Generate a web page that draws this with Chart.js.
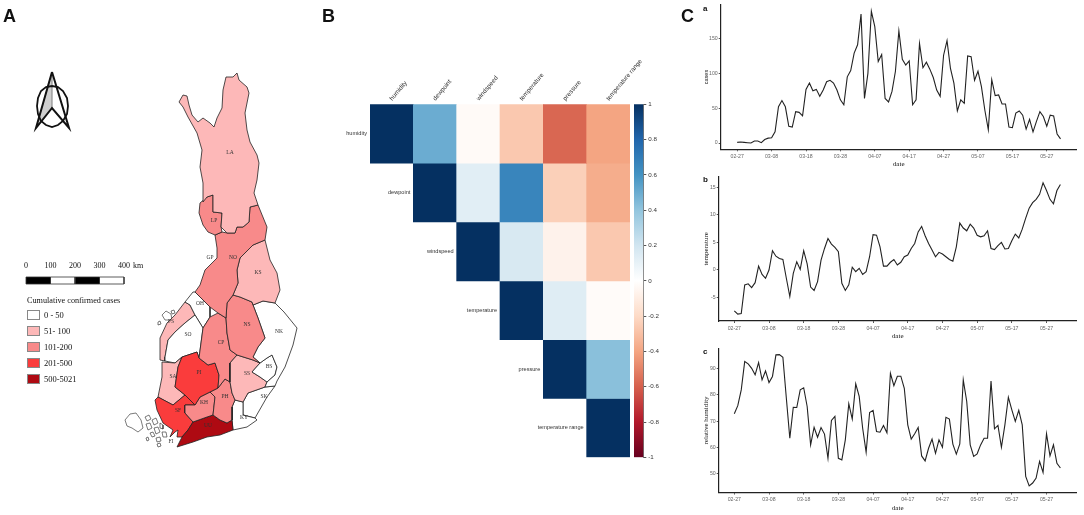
<!DOCTYPE html>
<html>
<head>
<meta charset="utf-8">
<script src="https://cdn.jsdelivr.net/npm/chart.js@4"></script>
<style>
body { margin:0; background:#fff; width:1084px; height:515px; overflow:hidden; position:relative; }
canvas { position:absolute; filter:blur(0.4px); }
.txt { position:absolute; white-space:nowrap; color:#111; }
.big { font:bold 18px "Liberation Sans"; }
.small { font:bold 8px "Liberation Sans"; }
.leg { font:8.5px "Liberation Serif"; }
.sw { position:absolute; width:13px; height:10px; border:1px solid #888; box-sizing:border-box; }
</style>
</head>
<body>
<canvas id="mapChart" width="320" height="515" style="left:0;top:0"></canvas>
<canvas id="heatChart" width="340" height="440" style="left:320px;top:40px"></canvas>
<canvas id="barScale" width="50" height="375" style="left:625px;top:95px"></canvas>
<canvas id="chartA" width="381" height="168" style="left:703px;top:0"></canvas>
<canvas id="chartB" width="382" height="170" style="left:702px;top:170px"></canvas>
<canvas id="chartC" width="382" height="172" style="left:702px;top:340px"></canvas>

<div class="txt big" style="left:3px;top:6px">A</div>
<div class="txt big" style="left:322px;top:6px">B</div>
<div class="txt big" style="left:681px;top:6px">C</div>
<div class="txt small" style="left:703px;top:4px">a</div>
<div class="txt small" style="left:703px;top:175px">b</div>
<div class="txt small" style="left:703px;top:347px">c</div>
<div id="legend"></div>

<script>
// ---------- panel C : daily series, 02-27 to 05-31
var dateTicks = ["02-27","03-08","03-18","03-28","04-07","04-17","04-27","05-07","05-17","05-27"];
var tickDays = [0,10,20,30,40,50,60,70,80,90];

var cases = [1,1.5,1,0.5,0,3,3,0.5,5,7,7.5,16,52,61,52,24,23,45,44,39,77,86,75,77,67,76,88,90,86,76,62,55,95,104,129,141,185,64,100,189,167,117,127,64,59,74,103,161,120,112,118,55,62,143,108,116,106,94,76,67,126,147,107,86,46,62,57,125,124,90,103,81,47,19,91,68,69,56,56,23,22,43,46,40,20,34,16,31,45,38,24,40,39,13,6];
var temperature = [-7.4,-8,-7.9,-2.7,-2.5,-3.2,-2.3,0.7,-0.8,-1.5,0,3.5,2.5,2.1,1.9,-1.5,-4.8,-0.6,1.5,0.1,3.5,1.1,-3.1,-3.7,-2.1,1.8,3.9,5.7,4.7,4.1,3.3,-2.4,-3.7,-2.7,0.5,-0.3,0.3,-0.8,-0.3,2.4,6.4,6.3,4.2,0.7,0.7,1.4,1.9,0.9,1.4,2.4,2.7,3.9,4.8,6.9,7.9,6.2,4.8,3.6,2.4,3.2,2.9,2.4,1.9,1.6,4.2,8.5,7.6,7.1,8.3,7.6,6.3,6,6.2,7.1,3.9,3.7,4.4,5,3.8,3.9,5.3,6.5,5.8,7.4,9.4,11.2,12.2,12.8,13.7,15.8,14.4,12.8,12,14.4,15.5];
var humidity = [72.8,75.9,81.9,92.7,91.8,90.1,87.6,92.3,85.7,89.1,84.7,87,95.2,95.3,94.3,78.7,63.5,75.3,75.2,81.9,82.7,75.6,61,67.7,63.9,67.6,65.1,55.9,70.3,71.8,55.9,55.3,62.9,76.6,70.8,84.2,79.4,67.3,58.2,73.3,74.1,66.1,65.8,68.4,65.6,88.2,83.5,87.1,87.1,82.5,68.6,63.2,65.2,67.6,56.8,54.9,59.7,63.2,57.8,62.9,60.1,71.5,70.8,61.3,57.5,61.4,85.7,77.5,61,56.6,57.6,61,63.5,63.5,85.3,67.1,68.4,60.1,68.6,79.1,74.3,69.9,74.1,68.6,49,45.4,46.5,48.4,54.7,50.5,65.2,56.8,61,54,52.2];

var casesTicks = [0,50,100,150];
var tempTicks = [-5,0,5,10,15];
var humidTicks = [50,60,70,80,90];

// ---------- panel B : correlation matrix (upper triangle)
var corrNames = ["humidity","dewpoint","windspeed","temperature","pressure","temperature range"];
var corrHumidity = [1,0.5,-0.03,-0.27,-0.58,-0.4];
var corrDewpoint = [null,1,0.13,0.66,-0.24,-0.37];
var corrWindspeed = [null,null,1,0.17,-0.07,-0.27];
var corrTemperature = [null,null,null,1,0.14,-0.02];
var corrPressure = [null,null,null,null,1,0.42];
var corrRange = [null,null,null,null,null,1];
var corrRows = [corrHumidity,corrDewpoint,corrWindspeed,corrTemperature,corrPressure,corrRange];
var rdbuStops = ["#67001f","#b2182b","#d6604d","#f4a582","#fddbc7","#ffffff","#d1e5f0","#92c5de","#4393c3","#2166ac","#053061"];

// ---------- panel A : region outlines, in map units
var lapland = [[179,102],[183,95],[187,96],[189,105],[192,115],[198,122],[203,118],[210,123],[214,127],[217,118],[222,108],[223,90],[226,77],[233,77],[237,73],[239,80],[247,87],[249,93],[245,113],[247,130],[250,142],[257,155],[259,163],[257,180],[254,193],[258,205],[250,207],[249,222],[243,227],[237,227],[235,233],[227,233],[221,227],[222,213],[213,212],[213,195],[207,197],[203,202],[203,183],[200,167],[202,150],[197,133],[188,117],[183,107]];
var westPocket = [[213,195],[207,197],[200,203],[199,213],[203,225],[208,232],[215,235],[222,232],[221,227],[222,213],[213,212]];
var northOstro = [[215,235],[222,232],[227,233],[235,233],[237,227],[243,227],[249,222],[250,207],[258,205],[267,227],[265,240],[253,245],[240,258],[237,270],[238,283],[233,295],[227,303],[226,318],[218,313],[210,307],[203,300],[195,292],[200,285],[205,270],[217,258],[217,248]];
var kainuu = [[265,240],[270,260],[277,273],[280,290],[275,303],[263,301],[253,305],[252,302],[240,297],[233,295],[238,283],[237,270],[240,258],[253,245]];
var northSavo = [[227,303],[233,295],[240,297],[252,302],[253,305],[258,318],[265,338],[258,347],[253,357],[260,363],[253,360],[237,355],[230,350],[227,333],[226,318]];
var northKarelia = [[253,305],[263,301],[275,303],[284,312],[297,328],[293,345],[285,367],[277,381],[275,386],[265,387],[267,382],[275,375],[277,367],[272,355],[267,358],[260,363],[253,357],[258,347],[265,338],[258,318]];
var blueSavo = [[260,363],[267,358],[272,355],[277,367],[275,375],[267,382],[260,377],[252,372]];
var southSavo = [[237,355],[230,363],[230,382],[232,393],[235,400],[243,402],[248,393],[265,387],[267,382],[260,377],[252,372],[260,363],[253,360]];
var central = [[203,328],[210,317],[218,313],[226,318],[227,333],[230,350],[237,355],[230,363],[230,382],[225,379],[218,388],[219,375],[215,363],[208,365],[199,358]];
var pirkanmaa = [[178,367],[182,357],[197,352],[199,358],[208,365],[215,363],[219,375],[218,388],[210,392],[200,397],[195,405],[185,395],[175,387]];
var paijanne = [[218,388],[225,379],[230,382],[232,393],[235,400],[232,407],[232,420],[227,423],[220,420],[213,415],[215,397],[210,392]];
var kantaHame = [[195,405],[200,397],[210,392],[215,397],[213,415],[207,417],[193,422],[185,413],[185,405]];
var uusimaa = [[213,415],[220,420],[227,423],[232,420],[233,430],[220,435],[207,437],[193,442],[177,447],[182,437],[188,430],[193,422],[207,417]];
var kymi = [[232,420],[233,430],[247,427],[257,420],[255,418],[243,415],[243,402],[235,400],[232,407]];
var southKarelia = [[243,402],[248,393],[265,387],[275,386],[267,397],[255,418],[243,415]];
var southwest = [[155,400],[158,397],[173,405],[185,395],[195,405],[185,405],[185,413],[193,422],[188,430],[182,437],[177,437],[178,430],[175,432],[170,437],[173,430],[163,423],[157,410]];
var satakunta = [[162,362],[175,363],[182,357],[178,367],[175,387],[185,395],[173,405],[158,397],[162,377]];
var southOstro = [[175,332],[185,323],[195,315],[203,328],[199,358],[197,352],[182,357],[175,363],[165,361],[165,357],[168,340]];
var centralOstro = [[185,302],[193,292],[195,292],[203,300],[210,307],[210,317],[203,328],[195,315],[190,305]];
var ostrobothnia = [[185,302],[190,305],[195,315],[185,323],[175,332],[168,340],[165,357],[165,361],[160,360],[160,338],[167,323],[175,315]];
var islands = [
  [[125,420],[130,414],[136,413],[141,420],[143,428],[138,432],[132,428],[127,426]],
  [[145,417],[149,415],[151,419],[147,421]],[[152,420],[156,418],[158,423],[154,425]],
  [[146,424],[150,423],[152,428],[148,430]],[[154,428],[158,427],[160,432],[156,434]],
  [[160,423],[163,425],[163,429],[160,428]],[[162,432],[166,432],[167,437],[163,437]],
  [[150,433],[153,432],[155,436],[152,437]],[[156,438],[160,437],[161,441],[157,442]],
  [[146,438],[148,437],[149,440],[147,441]],[[157,444],[160,443],[161,446],[158,447]],
  [[162,315],[166,311],[171,314],[172,320],[165,320]],[[158,322],[160,321],[161,324],[158,325]],
  [[171,311],[174,310],[175,313],[172,314]]
];
var compassRing = [[52,86],[58,87],[63,91],[67,98],[68,106],[67,114],[63,121],[58,125],[52,127],[46,125],[41,121],[38,114],[37,106],[38,98],[41,91],[46,87]];
var compassArrow = [[52,72],[69,128],[52,108],[36,128]];
var compassShade = [[52,72],[52,108],[36,128]];

var regionLabels = [["LA",230,153],["LP",214,221],["GP",210,258],["NO",233,258],["KS",258,273],["OH",200,304],["SO",188,335],["NS",247,325],["NK",279,332],["CP",221,343],["PS",171,322],["SA",173,377],["PI",199,373],["SS",247,374],["BS",269,367],["PH",225,397],["KH",204,403],["SK",264,397],["KY",244,418],["SF",178,411],["UU",208,426],["FI",171,442]];

var scaleKm = [0,100,200,300,400];
var legendTitle = "Cumulative confirmed cases";
var legendLabels = ["0 - 50","51- 100","101-200","201-500","500-5021"];
var legendColors = ["#ffffff","#fdb8b8","#f88a8a","#fa3c3c","#ae0a12"];

var sans = '"Liberation Sans"', serif = '"Liberation Serif"';

function ringData(r) {
    var pts = r.map(function(p){ return {x:p[0], y:p[1]}; });
    pts.push({x:r[0][0], y:r[0][1]});
    return pts;
}
function region(r, col) {
    return { data:ringData(r), showLine:true, fill:'shape', backgroundColor:col, borderColor:'#222', borderWidth:0.8, pointRadius:0, tension:0 };
}

// ---------- map
var mapSets = [
    region(lapland,legendColors[1]), region(westPocket,legendColors[2]), region(northOstro,legendColors[2]),
    region(kainuu,legendColors[1]), region(northSavo,legendColors[2]), region(northKarelia,legendColors[0]),
    region(blueSavo,legendColors[0]), region(southSavo,legendColors[1]), region(central,legendColors[2]),
    region(pirkanmaa,legendColors[3]), region(paijanne,legendColors[2]), region(kantaHame,legendColors[2]),
    region(uusimaa,legendColors[4]), region(kymi,legendColors[0]), region(southKarelia,legendColors[0]),
    region(southwest,legendColors[3]), region(satakunta,legendColors[1]), region(southOstro,legendColors[0]),
    region(centralOstro,legendColors[0]), region(ostrobothnia,legendColors[1])
];
islands.forEach(function(r){
    var isl = region(r,'#ffffff');
    isl.borderWidth = 0.6;
    mapSets.push(isl);
});

// north arrow
var arrow = region(compassArrow,'rgba(255,255,255,0)'); arrow.borderWidth = 2; arrow.borderColor = '#111';
var shade = region(compassShade,'#cfcfcf'); shade.borderWidth = 0.5; shade.borderColor = '#888';
var ring = region(compassRing,'rgba(255,255,255,0)'); ring.borderWidth = 1.8; ring.borderColor = '#111';
mapSets.push(arrow, ring, shade);

// scale bar, 400 km = 98 map units
function kmX(km) { return 26 + km * 0.245; }
for (var k = 0; k < scaleKm.length - 1; k++) {
    var sb = region([[kmX(scaleKm[k]),277],[kmX(scaleKm[k+1]),277],[kmX(scaleKm[k+1]),284],[kmX(scaleKm[k]),284]], k % 2 ? '#fff' : '#000');
    sb.borderColor = '#333';
    mapSets.push(sb);
}

var mapText = {
    id:'mapText',
    afterDatasetsDraw: function(chart) {
        var c = chart.ctx, x = chart.scales.x, y = chart.scales.y;
        c.save();
        c.fillStyle = '#333';
        c.textAlign = 'center';
        c.textBaseline = 'middle';
        c.font = '5.5px ' + serif;
        regionLabels.forEach(function(l){ c.fillText(l[0], x.getPixelForValue(l[1]), y.getPixelForValue(l[2])); });
        c.fillStyle = '#111';
        c.font = '8px ' + serif;
        scaleKm.forEach(function(km){ c.fillText(String(km), x.getPixelForValue(kmX(km)), y.getPixelForValue(266)); });
        c.fillText('km', x.getPixelForValue(138), y.getPixelForValue(266));
        c.restore();
    }
};

new Chart(document.getElementById('mapChart'), {
    type:'scatter',
    data:{ datasets:mapSets },
    options:{
        responsive:false, animation:false, layout:{padding:0},
        plugins:{ legend:{display:false}, tooltip:{enabled:false} },
        scales:{
            x:{ type:'linear', display:false, min:0, max:320 },
            y:{ type:'linear', display:false, min:0, max:515, reverse:true }
        }
    },
    plugins:[mapText]
});

// legend under the scale bar
var legendHtml = '<div class="txt" style="left:27px;top:296px;font:8.2px ' + serif.replace(/"/g,"'") + '">' + legendTitle + '</div>';
legendLabels.forEach(function(t,i){
    var top = 310 + i * 16;
    legendHtml += '<div class="sw" style="left:27px;top:' + top + 'px;background:' + legendColors[i] + '"></div>';
    legendHtml += '<div class="txt leg" style="left:44px;top:' + (top - 0.5) + 'px">' + t + '</div>';
});
document.getElementById('legend').innerHTML = legendHtml;

// ---------- correlation plot
function hexRgb(h) { return [parseInt(h.substr(1,2),16), parseInt(h.substr(3,2),16), parseInt(h.substr(5,2),16)]; }
function corrColor(v) {
    var t = (v + 1) * 5, i = Math.min(Math.floor(t), 9), f = t - i;
    var a = hexRgb(rdbuStops[i]), b = hexRgb(rdbuStops[i+1]);
    return 'rgb(' + [0,1,2].map(function(n){ return Math.round(a[n] + (b[n]-a[n]) * f); }).join(',') + ')';
}
var heatSets = corrRows.map(function(row, r){
    return {
        data: row.map(function(v){ return v === null ? null : [r, r+1]; }),
        backgroundColor: row.map(function(v){ return v === null ? 'transparent' : corrColor(v); }),
        grouped:false, barPercentage:1, categoryPercentage:1, borderWidth:0
    };
});
var rowLabels = {
    id:'rowLabels',
    afterDatasetsDraw: function(chart) {
        var c = chart.ctx, x = chart.scales.x, y = chart.scales.y;
        c.save();
        c.fillStyle = '#333';
        c.font = '5.6px ' + sans;
        c.textAlign = 'right';
        c.textBaseline = 'middle';
        corrNames.forEach(function(n,i){
            var left = x.getPixelForValue(i) - (x.getPixelForValue(1) - x.getPixelForValue(0)) / 2;
            c.fillText(n, left - 3, y.getPixelForValue(i + 0.5));
        });
        c.restore();
    }
};
new Chart(document.getElementById('heatChart'), {
    type:'bar',
    data:{ labels:corrNames, datasets:heatSets },
    options:{
        responsive:false, animation:false,
        layout:{ padding:{left:50, right:30, bottom:22.7} },
        plugins:{ legend:{display:false}, tooltip:{enabled:false} },
        scales:{
            x:{
                position:'top', offset:true,
                grid:{display:false, drawTicks:false, tickLength:0}, border:{display:false},
                ticks:{ autoSkip:false, minRotation:50, maxRotation:50, padding:2, labelOffset:5, font:{size:6.3, family:sans}, color:'#333' },
                afterFit:function(s){ s.height = 64.3; s.paddingLeft = 0; s.paddingRight = 0; }
            },
            y:{ display:false, min:0, max:6, reverse:true }
        }
    },
    plugins:[rowLabels]
});

// colour bar
new Chart(document.getElementById('barScale'), {
    type:'bar',
    data:{ labels:[''], datasets:[{
        data:[[-1,1]], barPercentage:1, categoryPercentage:1, borderWidth:0,
        backgroundColor:function(ctx){
            var a = ctx.chart.chartArea;
            if (!a) return '#fff';
            var g = ctx.chart.ctx.createLinearGradient(0, a.bottom, 0, a.top);
            rdbuStops.forEach(function(c,i){ g.addColorStop(i / (rdbuStops.length - 1), c); });
            return g;
        }
    }]},
    options:{
        responsive:false, animation:false,
        layout:{ padding:{left:9, top:9.3, bottom:12.7} },
        plugins:{ legend:{display:false}, tooltip:{enabled:false} },
        scales:{
            x:{ display:false },
            y:{
                position:'right', min:-1, max:1,
                grid:{ drawOnChartArea:false, tickLength:3, color:'#555' },
                border:{ display:true, color:'#777', width:1 },
                ticks:{
                    stepSize:0.2, padding:2, font:{size:6.2, family:sans}, color:'#333',
                    callback:function(v){ return String(Math.round(v * 10) / 10); }
                },
                afterFit:function(s){ s.width = 31.7; }
            }
        }
    }
});

// ---------- time series
function seriesChart(id, values, xMin, xMax, yMin, yMax, yTicks, yTitle, titleFont, boxW, boxH, padTop) {
    new Chart(document.getElementById(id), {
        type:'scatter',
        data:{ datasets:[{
            data:values.map(function(v,i){ return {x:i, y:v}; }),
            showLine:true, borderColor:'#222', borderWidth:1.1, pointRadius:0, tension:0, fill:false
        }]},
        options:{
            responsive:false, animation:false,
            layout:{ padding:{top:padTop, right:7.3} },
            plugins:{ legend:{display:false}, tooltip:{enabled:false} },
            scales:{
                x:{
                    type:'linear', min:xMin, max:xMax,
                    afterBuildTicks:function(s){ s.ticks = tickDays.map(function(d){ return {value:d}; }); },
                    grid:{ drawOnChartArea:false, tickLength:2, color:'#555' },
                    border:{ display:true, color:'#222', width:1.2 },
                    ticks:{
                        autoSkip:false, maxRotation:0, padding:2, font:{size:5.2, family:sans}, color:'#666',
                        callback:function(v){ return dateTicks[tickDays.indexOf(v)]; }
                    },
                    title:{ display:true, text:'date', font:{size:7, family:serif}, color:'#111', padding:0 },
                    afterFit:function(s){ s.height = boxH; s.paddingLeft = 0; s.paddingRight = 0; }
                },
                y:{
                    type:'linear', min:yMin, max:yMax,
                    afterBuildTicks:function(s){ s.ticks = yTicks.map(function(d){ return {value:d}; }); },
                    grid:{ drawOnChartArea:false, tickLength:2, color:'#555' },
                    border:{ display:true, color:'#222', width:1.2 },
                    ticks:{ padding:1, font:{size:5.2, family:sans}, color:'#666' },
                    title:{ display:true, text:yTitle, font:titleFont, color:'#111', padding:0 },
                    afterFit:function(s){ s.width = boxW; s.paddingTop = 0; s.paddingBottom = 0; }
                }
            }
        }
    });
}
seriesChart('chartA', cases, -4.8, 98.7, -9, 198.5, casesTicks, 'cases', {size:5.5, family:sans}, 17.7, 18.7, 4.7);
seriesChart('chartB', temperature, -4.5, 98.7, -9.24, 16.9, tempTicks, 'temperature', {size:7, family:serif}, 16.7, 19, 6.7);
seriesChart('chartC', humidity, -4.5, 98.7, 42.9, 97.7, humidTicks, 'relative humidity', {size:7, family:serif}, 16.7, 19.5, 8.3);
</script>
</body>
</html>
